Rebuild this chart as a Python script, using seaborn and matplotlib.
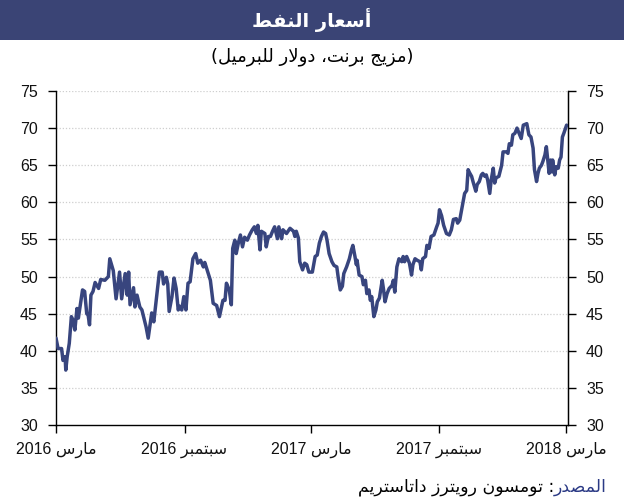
import re
import pandas as pd
import matplotlib
matplotlib.use("Agg")
import matplotlib.pyplot as plt
from matplotlib.patches import Rectangle
import seaborn as sns

# ---------------- data ----------------
title = "أسعار النفط"
subtitle = "(مزيج برنت، دولار للبرميل)"
source_label = "المصدر"
source_rest = ": تومسون رويترز داتاستريم"
tick_dates = ["2016-03-01", "2016-09-01", "2017-03-01", "2017-09-01", "2018-03-01"]
tick_labels = ["مارس 2016", "سبتمبر 2016", "مارس 2017", "سبتمبر 2017", "مارس 2018"]
y_ticks = [30, 35, 40, 45, 50, 55, 60, 65, 70, 75]

dates = [
    "2016-03-01", "2016-03-04", "2016-03-09", "2016-03-11", "2016-03-14", "2016-03-15", "2016-03-17",
    "2016-03-20", "2016-03-23", "2016-03-25", "2016-03-28", "2016-03-31", "2016-04-02", "2016-04-04",
    "2016-04-08", "2016-04-11", "2016-04-14", "2016-04-16", "2016-04-18", "2016-04-20", "2016-04-23",
    "2016-04-26", "2016-05-01", "2016-05-04", "2016-05-10", "2016-05-15", "2016-05-17", "2016-05-22",
    "2016-05-26", "2016-05-31", "2016-06-03", "2016-06-08", "2016-06-11", "2016-06-13", "2016-06-15",
    "2016-06-20", "2016-06-22", "2016-06-25", "2016-06-29", "2016-07-02", "2016-07-08", "2016-07-11",
    "2016-07-16", "2016-07-19", "2016-07-22", "2016-07-27", "2016-07-31", "2016-08-02", "2016-08-06",
    "2016-08-08", "2016-08-10", "2016-08-14", "2016-08-17", "2016-08-20", "2016-08-23", "2016-08-25",
    "2016-08-28", "2016-08-31", "2016-09-03", "2016-09-06", "2016-09-09", "2016-09-13", "2016-09-17",
    "2016-09-20", "2016-09-24", "2016-09-28", "2016-09-30", "2016-10-05", "2016-10-08", "2016-10-12",
    "2016-10-17", "2016-10-21", "2016-10-26", "2016-10-29", "2016-10-31", "2016-11-04", "2016-11-07",
    "2016-11-09", "2016-11-12", "2016-11-14", "2016-11-17", "2016-11-20", "2016-11-23", "2016-11-26",
    "2016-11-30", "2016-12-03", "2016-12-07", "2016-12-10", "2016-12-13", "2016-12-15", "2016-12-18",
    "2016-12-20", "2016-12-25", "2016-12-27", "2016-12-30", "2017-01-02", "2017-01-05", "2017-01-08",
    "2017-01-12", "2017-01-14", "2017-01-18", "2017-01-20", "2017-01-25", "2017-01-30", "2017-02-04",
    "2017-02-06", "2017-02-08", "2017-02-11", "2017-02-13", "2017-02-17", "2017-02-20", "2017-02-23",
    "2017-02-26", "2017-03-03", "2017-03-07", "2017-03-10", "2017-03-13", "2017-03-16", "2017-03-19",
    "2017-03-22", "2017-03-24", "2017-03-27", "2017-03-31", "2017-04-03", "2017-04-07", "2017-04-09",
    "2017-04-12", "2017-04-15", "2017-04-17", "2017-04-21", "2017-04-25", "2017-04-28", "2017-04-30",
    "2017-05-03", "2017-05-05", "2017-05-06", "2017-05-09", "2017-05-13", "2017-05-15", "2017-05-18",
    "2017-05-20", "2017-05-23", "2017-05-25", "2017-05-27", "2017-05-30", "2017-06-02", "2017-06-04",
    "2017-06-07", "2017-06-11", "2017-06-13", "2017-06-15", "2017-06-18", "2017-06-21", "2017-06-25",
    "2017-06-27", "2017-06-29", "2017-07-02", "2017-07-05", "2017-07-09", "2017-07-11", "2017-07-13",
    "2017-07-16", "2017-07-20", "2017-07-23", "2017-07-25", "2017-07-28", "2017-07-31", "2017-08-04",
    "2017-08-06", "2017-08-08", "2017-08-12", "2017-08-14", "2017-08-17", "2017-08-20", "2017-08-24",
    "2017-08-28", "2017-08-30", "2017-09-01", "2017-09-04", "2017-09-07", "2017-09-11", "2017-09-15",
    "2017-09-18", "2017-09-21", "2017-09-25", "2017-09-27", "2017-09-30", "2017-10-04", "2017-10-07",
    "2017-10-10", "2017-10-12", "2017-10-14", "2017-10-17", "2017-10-19", "2017-10-23", "2017-10-25",
    "2017-10-28", "2017-10-31", "2017-11-02", "2017-11-05", "2017-11-07", "2017-11-09", "2017-11-12",
    "2017-11-14", "2017-11-17", "2017-11-19", "2017-11-21", "2017-11-25", "2017-11-29", "2017-12-01",
    "2017-12-06", "2017-12-08", "2017-12-10", "2017-12-13", "2017-12-15", "2017-12-18", "2017-12-21",
    "2017-12-24", "2017-12-27", "2017-12-30", "2018-01-04", "2018-01-07", "2018-01-10", "2018-01-13",
    "2018-01-15", "2018-01-18", "2018-01-20", "2018-01-22", "2018-01-25", "2018-01-27", "2018-01-30",
    "2018-02-01", "2018-02-03", "2018-02-05", "2018-02-07", "2018-02-09", "2018-02-10", "2018-02-13",
    "2018-02-15", "2018-02-18", "2018-02-20", "2018-02-22", "2018-02-24", "2018-02-26", "2018-03-02",
]
prices = [
    41.7, 40.3, 40.3, 38.7, 39.2, 37.4, 39.2,
    41.0, 44.6, 44.2, 42.8, 45.7, 44.4, 45.7,
    48.2, 48.0, 45.0, 44.8, 43.5, 47.5, 48.0,
    49.2, 48.4, 49.6, 49.5, 50.0, 52.4, 50.8,
    47.0, 50.6, 47.0, 50.4, 47.5, 50.6, 46.2,
    48.5, 45.9, 47.5, 45.9, 45.5, 43.2, 41.7,
    45.1, 43.9, 46.4, 50.6, 50.6, 49.0, 49.9,
    49.0, 45.3, 47.3, 49.8, 48.4, 45.5, 46.0,
    45.5, 47.3, 45.5, 49.1, 49.3, 52.4, 53.1,
    51.8, 52.2, 51.3, 51.9, 50.4, 49.5, 46.4,
    46.1, 44.6, 46.8, 46.8, 49.1, 48.2, 46.2,
    53.8, 54.9, 53.1, 54.5, 55.6, 54.0, 55.3,
    54.9, 55.6, 56.3, 56.7, 55.8, 56.9, 53.6,
    56.1, 55.8, 54.0, 55.4, 55.4, 56.1, 56.7,
    55.1, 56.7, 55.1, 56.3, 55.8, 56.5, 56.1,
    55.4, 56.1, 55.2, 52.0, 50.9, 51.8, 51.6,
    50.6, 50.6, 52.7, 52.9, 54.5, 55.4, 56.0,
    55.8, 54.9, 53.1, 52.0, 51.5, 51.3, 49.9,
    48.2, 48.7, 50.4, 51.3, 52.4, 53.6, 54.2,
    52.7, 51.6, 52.2, 50.2, 50.0, 48.9, 49.5,
    47.7, 48.2, 46.8, 47.3, 44.6, 45.5, 46.6,
    47.1, 49.5, 48.2, 46.6, 47.7, 48.4, 48.8,
    49.5, 47.9, 51.3, 52.4, 52.0, 52.7, 52.0,
    52.7, 51.8, 50.2, 51.6, 52.4, 52.2, 52.0,
    50.9, 52.4, 52.7, 54.2, 53.8, 55.4, 55.6,
    56.7, 57.2, 59.0, 58.2, 56.9, 55.8, 55.6,
    56.3, 57.7, 57.8, 57.2, 57.6, 59.7, 61.2,
    61.6, 64.4, 64.0, 63.5, 62.8, 61.5, 62.4,
    62.8, 63.7, 63.9, 63.5, 63.7, 63.0, 61.2,
    63.0, 64.6, 62.6, 63.3, 63.5, 65.0, 66.8,
    66.8, 66.6, 67.9, 67.7, 69.1, 69.3, 70.0,
    69.3, 68.6, 70.4, 70.6, 69.1, 68.8, 67.3,
    64.4, 62.8, 63.9, 64.6, 65.0, 65.5, 66.4,
    67.5, 65.7, 63.9, 65.7, 64.1, 65.7, 63.7,
    64.8, 64.6, 65.7, 66.1, 68.8, 69.3, 70.4,
]

# ---------------- Arabic shaping (contextual forms + visual order) ----------------
FORMS = {
    'ا': ('\uFE8D', '\uFE8E', None, None),
    'أ': ('\uFE83', '\uFE84', None, None),
    'ب': ('\uFE8F', '\uFE90', '\uFE91', '\uFE92'),
    'ت': ('\uFE95', '\uFE96', '\uFE97', '\uFE98'),
    'ج': ('\uFE9D', '\uFE9E', '\uFE9F', '\uFEA0'),
    'د': ('\uFEA9', '\uFEAA', None, None),
    'ر': ('\uFEAD', '\uFEAE', None, None),
    'ز': ('\uFEAF', '\uFEB0', None, None),
    'س': ('\uFEB1', '\uFEB2', '\uFEB3', '\uFEB4'),
    'ص': ('\uFEB9', '\uFEBA', '\uFEBB', '\uFEBC'),
    'ط': ('\uFEC1', '\uFEC2', '\uFEC3', '\uFEC4'),
    'ع': ('\uFEC9', '\uFECA', '\uFECB', '\uFECC'),
    'ف': ('\uFED1', '\uFED2', '\uFED3', '\uFED4'),
    'ل': ('\uFEDD', '\uFEDE', '\uFEDF', '\uFEE0'),
    'م': ('\uFEE1', '\uFEE2', '\uFEE3', '\uFEE4'),
    'ن': ('\uFEE5', '\uFEE6', '\uFEE7', '\uFEE8'),
    'و': ('\uFEED', '\uFEEE', None, None),
    'ي': ('\uFEF1', '\uFEF2', '\uFEF3', '\uFEF4'),
}
LAM_ALEF = {'ا': ('\uFEFB', '\uFEFC'), 'أ': ('\uFEF7', '\uFEF8')}


def _dual(c):
    return c in FORMS and FORMS[c][2] is not None


def shape(s):
    out, i, n = [], 0, len(s)
    while i < n:
        c = s[i]
        if c not in FORMS:
            out.append(c)
            i += 1
            continue
        jp = i > 0 and _dual(s[i - 1])
        if c == 'ل' and i + 1 < n and s[i + 1] in LAM_ALEF:
            iso, fin = LAM_ALEF[s[i + 1]]
            out.append(fin if jp else iso)
            i += 2
            continue
        jn = _dual(c) and i + 1 < n and s[i + 1] in FORMS
        iso, fin, ini, med = FORMS[c]
        out.append(med if (jp and jn) else fin if jp else ini if jn else iso)
        i += 1
    return ''.join(out)


def ar(s):
    v = shape(s)[::-1]
    v = re.sub(r'[0-9A-Za-z.]+', lambda m: m.group(0)[::-1], v)
    return v.translate(str.maketrans('()', ')('))


# ---------------- plot ----------------
sns.set_style("white")
plt.rcParams['font.family'] = ['Liberation Sans', 'DejaVu Sans']

LINE = '#38457e'
BAR = '#3a4475'

df = pd.DataFrame({'date': pd.to_datetime(dates), 'price': prices})

fig = plt.figure(figsize=(6.24, 5.0), dpi=100)
ax = fig.add_axes([56 / 624, 75 / 500, 512 / 624, 334 / 500])

for yv in y_ticks[1:]:
    ax.axhline(yv, color='#cfcfcf', lw=0.9, ls=(0, (1, 1.5)), zorder=0)

sns.lineplot(data=df, x='date', y='price', ax=ax, color=LINE, lw=2.5, zorder=3)

ax.set_xlim(pd.Timestamp("2016-03-01"), pd.Timestamp("2018-03-04"))
ax.set_ylim(30, 75)
ax.set_yticks(y_ticks)
ax.set_xticks(pd.to_datetime(tick_dates))
ax.set_xticklabels([ar(t) for t in tick_labels])
ax.set_xlabel('')
ax.set_ylabel('')
ax.grid(False)

for side in ['left', 'right', 'bottom']:
    ax.spines[side].set_visible(True)
    ax.spines[side].set_color('black')
    ax.spines[side].set_linewidth(1.0)
ax.spines['top'].set_visible(False)

ax.tick_params(axis='both', direction='out', length=6, width=1, color='black',
               labelsize=11.5, labelcolor='#111111')
ax.tick_params(axis='y', pad=7, left=True)
ax.tick_params(axis='x', pad=6, bottom=True)

ax2 = ax.twinx()
ax2.set_ylim(30, 75)
ax2.set_yticks(y_ticks)
ax2.tick_params(axis='y', direction='out', length=6, width=1, color='black',
                labelsize=11.5, labelcolor='#111111', pad=7, right=True)
for side in ['left', 'top', 'bottom']:
    ax2.spines[side].set_visible(False)
ax2.spines['right'].set_visible(True)
ax2.spines['right'].set_color('black')
ax2.grid(False)

# title bar
fig.patches.append(Rectangle((0, 1 - 40 / 500), 1, 40 / 500, transform=fig.transFigure,
                             facecolor=BAR, edgecolor='none', zorder=0))
fig.text(0.5, 1 - 20 / 500, ar(title), color='white', fontsize=14, fontweight='bold',
         ha='center', va='center', family=['DejaVu Sans'])
fig.text(0.5, 1 - 57 / 500, ar(subtitle), color='black', fontsize=13,
         ha='center', va='center', family=['DejaVu Sans'])

# source
t1 = fig.text(607 / 624, 1 - 487 / 500, ar(source_label), color='#2b3a85', fontsize=12.5,
              ha='right', va='center', family=['DejaVu Sans'])
fig.canvas.draw()
bb = t1.get_window_extent(renderer=fig.canvas.get_renderer())
x0 = fig.transFigure.inverted().transform((bb.x0, bb.y0))[0]
fig.text(x0, 1 - 487 / 500, ar(source_rest), color='black', fontsize=12.5,
         ha='right', va='center', family=['DejaVu Sans'])

fig.savefig('out.png', dpi=100)
